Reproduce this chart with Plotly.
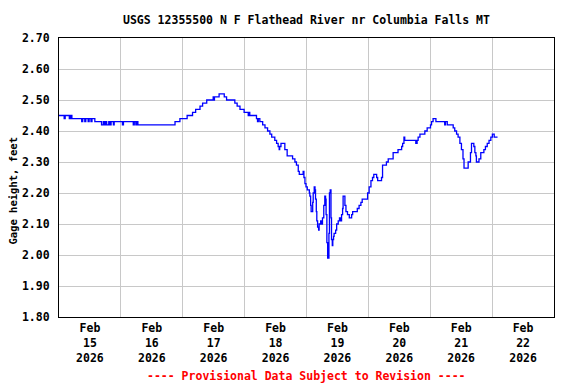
import pandas as pd
import plotly.graph_objects as go

# Gage height readings: hours after 2026-02-15 00:00 and value (feet)
hours = [
    0.0, 2.0, 2.4, 4.0, 4.5, 5.0, 8.8, 9.2, 10.0, 10.4, 11.3, 11.7, 12.4, 12.8,
    13.9, 16.5, 17.2, 17.6, 18.0, 18.5, 19.3, 19.8, 20.2, 21.1, 21.4, 24.6, 25.0,
    28.8, 29.2, 29.8, 30.1, 30.6, 45.0, 46.9, 49.7, 51.8, 53.0, 54.7, 55.7, 57.3,
    59.8, 60.0, 60.3, 62.1, 64.1, 65.0, 68.2, 69.1, 70.2, 71.8, 73.4, 73.6, 74.0,
    76.6, 77.0, 77.3, 77.9, 79.0, 79.9, 80.9, 81.8, 82.5, 83.7, 84.4, 85.0, 85.4,
    85.6, 86.1, 87.6, 88.5, 90.6, 91.5, 92.1, 92.8, 93.2, 94.7, 95.0, 95.4, 95.8,
    96.3, 97.1, 97.3, 97.6, 97.8, 98.4, 98.6, 99.0, 99.3, 99.5, 99.8, 100.0, 100.3,
    100.7, 100.9, 101.5, 101.8, 102.2, 102.7, 103.1, 103.4, 103.6, 103.9, 104.2,
    104.7, 104.9, 105.2, 105.5, 105.7, 106.0, 106.2, 106.5, 106.7, 107.3, 107.7,
    108.3, 108.8, 109.3, 109.6, 110.0, 110.2, 110.5, 110.9, 111.3, 111.9, 112.6,
    113.5, 113.9, 115.7, 116.4, 117.1, 117.6, 119.7, 120.3, 121.0, 121.6, 122.1,
    123.2, 123.6, 125.1, 125.5, 127.0, 127.7, 129.6, 131.5, 132.9, 133.3, 133.8,
    134.1, 138.4, 138.9, 139.3, 140.0, 141.9, 142.8, 144.1, 144.5, 145.1, 146.2,
    149.6, 149.9, 150.6, 152.9, 153.5, 154.2, 154.8, 155.5, 156.1, 156.7, 157.1,
    158.7, 159.6, 160.0, 160.9, 161.3, 161.7, 161.9, 162.9, 163.6, 164.8, 165.4,
    166.1, 166.8, 167.5, 168.1, 168.8, 170.1,
]
gage_ft = [
    2.45, 2.44, 2.45, 2.44, 2.45, 2.44, 2.43, 2.44, 2.43, 2.44, 2.43, 2.44, 2.43, 2.44,
    2.43, 2.42, 2.43, 2.42, 2.43, 2.42, 2.43, 2.42, 2.43, 2.42, 2.43, 2.42, 2.43,
    2.42, 2.43, 2.42, 2.43, 2.42, 2.43, 2.44, 2.45, 2.46, 2.47, 2.48, 2.49, 2.50,
    2.51, 2.50, 2.51, 2.52, 2.51, 2.50, 2.49, 2.48, 2.47, 2.46, 2.45, 2.46, 2.45,
    2.44, 2.43, 2.44, 2.43, 2.42, 2.41, 2.40, 2.39, 2.38, 2.37, 2.36, 2.35, 2.34,
    2.35, 2.36, 2.34, 2.32, 2.31, 2.30, 2.29, 2.27, 2.26, 2.27, 2.25, 2.23, 2.22,
    2.21, 2.20, 2.19, 2.16, 2.14, 2.17, 2.20, 2.22, 2.21, 2.18, 2.14, 2.11, 2.09,
    2.08, 2.10, 2.11, 2.10, 2.12, 2.16, 2.19, 2.18, 2.13, 2.04, 1.99,
    2.07, 2.20, 2.21, 2.12, 2.05, 2.03, 2.05, 2.06, 2.07, 2.08, 2.10,
    2.11, 2.12, 2.11, 2.13, 2.15, 2.19, 2.19, 2.16, 2.14, 2.13, 2.12,
    2.13, 2.14, 2.15, 2.16, 2.17, 2.18, 2.20, 2.22, 2.24, 2.25, 2.26,
    2.25, 2.24, 2.25, 2.29, 2.30, 2.31, 2.33, 2.34, 2.35, 2.36, 2.38,
    2.37, 2.36, 2.37, 2.38, 2.39, 2.40, 2.41, 2.42, 2.43, 2.44, 2.43,
    2.42, 2.43, 2.42, 2.41, 2.40, 2.39, 2.38, 2.36, 2.34, 2.31, 2.28,
    2.30, 2.33, 2.36, 2.35, 2.33, 2.32, 2.30, 2.31, 2.33, 2.34, 2.35,
    2.36, 2.37, 2.38, 2.39, 2.38, 2.38,
]

start_date = "2026-02-15"
end_date = "2026-02-23"
y_range = [1.80, 2.70]
title_text = "USGS 12355500 N F Flathead River nr Columbia Falls MT"
y_title = "Gage height, feet"
note_text = "---- Provisional Data Subject to Revision ----"

times = pd.Timestamp(start_date) + pd.to_timedelta(hours, unit="h")

FONT = "DejaVu Sans Mono"
# page body has an 8px margin; figure is sized so the plot lands where the reference has it
OFF = 8
W, H = 576 - OFF, 384 - OFF
L, R, T, B = 59 - OFF, 576 - 554, 38 - OFF, 384 - 317
PW, PH = W - L - R, H - T - B


def px_x(x):
    return (x - OFF - L) / PW


def px_y(y):
    return (H - B - (y - OFF)) / PH


fig = go.Figure(
    go.Scatter(
        x=times, y=gage_ft, mode="lines",
        line=dict(color="#0000ff", width=1.3, shape="hv"),
        hoverinfo="skip",
    )
)

fig.update_layout(
    width=W, height=H, autosize=False,
    margin=dict(l=L, r=R, t=T, b=B, pad=0),
    paper_bgcolor="white", plot_bgcolor="white",
    showlegend=False,
    font=dict(family=FONT, size=11.5, color="black", weight="bold"),
)

fig.update_xaxes(
    range=[start_date, end_date], type="date",
    tick0=start_date, dtick=86400000,
    tickformat="%b<br>%d<br>%Y", ticklabelmode="period",
    showgrid=True, gridcolor="#c8c8c8", gridwidth=1,
    showline=True, linecolor="black", linewidth=1.2, mirror=True,
    ticks="", zeroline=False,
)
fig.update_yaxes(
    range=y_range, tick0=1.8, dtick=0.1, tickformat=".2f",
    showgrid=True, gridcolor="#c8c8c8", gridwidth=1,
    showline=True, linecolor="black", linewidth=1.2, mirror=True,
    ticks="", zeroline=False, ticklabelstandoff=6,
)

fig.add_annotation(
    text=title_text, xref="paper", yref="paper",
    x=px_x(306.5), y=px_y(20), xanchor="center", yanchor="middle",
    showarrow=False, font=dict(family=FONT, size=11.5, color="black", weight="bold"),
)
fig.add_annotation(
    text=y_title, textangle=-90, xref="paper", yref="paper",
    x=px_x(12.5), y=px_y(191), xanchor="center", yanchor="middle",
    showarrow=False, font=dict(family=FONT, size=10.5, color="black", weight="bold"),
)
fig.add_annotation(
    text=note_text, xref="paper", yref="paper",
    x=px_x(306.5), y=px_y(376), xanchor="center", yanchor="middle",
    showarrow=False, font=dict(family=FONT, size=11.5, color="red", weight="bold"),
)

fig.write_html("out.html")
